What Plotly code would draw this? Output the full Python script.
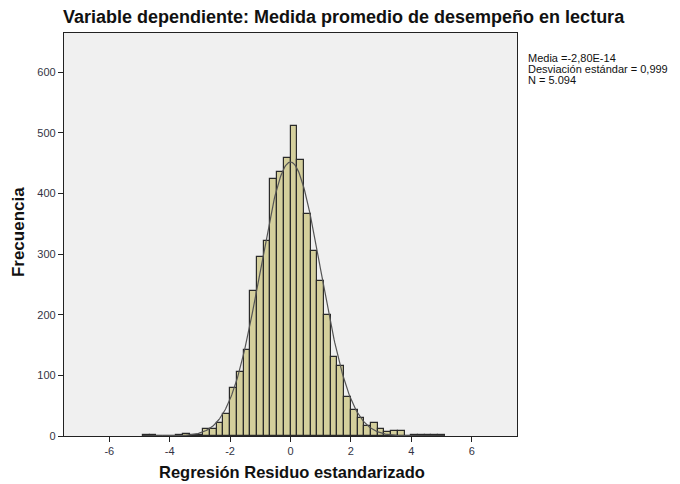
import numpy as np
import plotly.graph_objects as go

# Histogram data (bin width 2/9, left edges at k * 2/9)
bin_width = 2.0 / 9.0
bin_index = list(range(-22, 23))
counts = [1, 1, 0, 0, 0, 2, 4, 2, 2, 12, 12, 21, 37, 79, 105, 142, 240, 296, 321,
          424, 435, 458, 511, 455, 366, 306, 255, 200, 131, 115, 64, 43, 29, 17,
          21, 12, 6, 8, 8, 0, 1, 1, 1, 1, 1]

# Summary statistics shown in the chart
media = -2.80e-14
desv = 0.999
n_total = 5094

x_tickvals = [-6, -4, -2, 0, 2, 4, 6]
x_ticktext = ["-6", "-4", "-2", "0", "2", "4", "6"]
y_tickvals = [0, 100, 200, 300, 400, 500, 600]

centers = [(k + 0.5) * bin_width for k in bin_index]

# Fitted normal curve from the displayed statistics
xc = np.linspace(-4.9, 5.1, 400)
yc = n_total * bin_width * np.exp(-0.5 * ((xc - media) / desv) ** 2) / (desv * np.sqrt(2 * np.pi))

fig = go.Figure()
fig.add_trace(go.Bar(
    x=centers, y=counts, width=[bin_width] * len(centers),
    marker=dict(color="#d4cf9c", line=dict(color="#2a2a2a", width=1.2)),
    hoverinfo="skip",
))
fig.add_trace(go.Scatter(
    x=xc, y=yc, mode="lines",
    line=dict(color="#555555", width=1.2), hoverinfo="skip",
))

font_family = "Liberation Sans, Arial, sans-serif"

fig.update_layout(
    width=680, height=484,
    margin=dict(l=56, r=171, t=25, b=56, autoexpand=False),
    paper_bgcolor="white",
    plot_bgcolor="#f0f0f0",
    showlegend=False,
    bargap=0,
    font=dict(family=font_family, color="#222222"),
    title=dict(
        text="<b>Variable dependiente: Medida promedio de desempeño en lectura</b>",
        x=55 / 680, xanchor="left", y=1 - 9 / 484, yanchor="middle",
        font=dict(size=18, color="#111111", family=font_family),
    ),
)

fig.update_xaxes(
    automargin=False,
    range=[-7.5, 7.5], tickvals=x_tickvals, ticktext=x_ticktext,
    showgrid=False, zeroline=False,
    showline=True, mirror=True, linecolor="#222222", linewidth=1.2,
    ticks="outside", ticklen=5, tickcolor="#222222",
    tickfont=dict(size=11, color="#333344"),
)
fig.update_yaxes(
    automargin=False,
    range=[0, 665], tickvals=y_tickvals,
    showgrid=False, zeroline=False,
    showline=True, mirror=True, linecolor="#222222", linewidth=1.2,
    ticks="outside", ticklen=5, tickcolor="#222222",
    tickfont=dict(size=11, color="#333344"),
)

# Axis titles
fig.add_annotation(
    text="<b>Regresión Residuo estandarizado</b>", xref="paper", yref="paper",
    x=0.503, y=0, yshift=-36, xanchor="center", yanchor="middle",
    showarrow=False, font=dict(size=16.5, color="#111111", family=font_family),
)
fig.add_annotation(
    text="<b>Frecuencia</b>", xref="paper", yref="paper", textangle=-90,
    x=0, xshift=-46, y=0.506, xanchor="center", yanchor="middle",
    showarrow=False, font=dict(size=17, color="#111111", family=font_family),
)

stats_lines = [
    "Media =-2,80E-14",
    "Desviación estándar = 0,999",
    "N = 5.094",
]
for i, line in enumerate(stats_lines):
    fig.add_annotation(
        text=line, xref="paper", yref="paper",
        x=1.0, xshift=9, xanchor="left",
        y=1.0, yshift=-25 - 11 * i, yanchor="middle",
        showarrow=False, align="left",
        font=dict(size=11, color="#111111", family=font_family),
    )

fig.write_html("out.html")
